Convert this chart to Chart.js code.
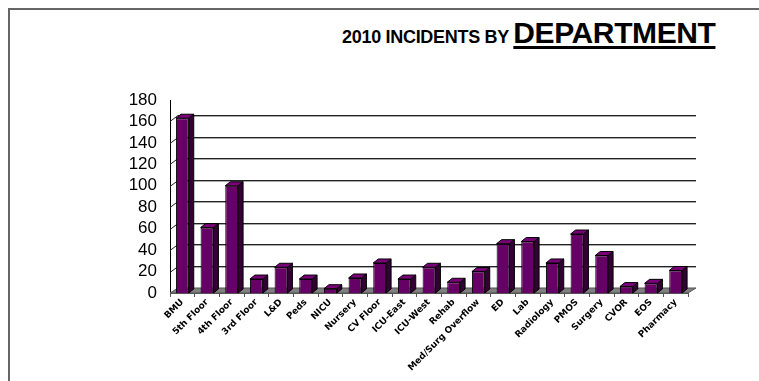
<!DOCTYPE html>
<html>
<head>
<meta charset="utf-8">
<script src="https://cdn.jsdelivr.net/npm/chart.js@4"></script>
<style>
  html, body { margin: 0; padding: 0; background: #fff; }
  #wrap { position: relative; width: 759px; height: 381px; }
  #frame { position: absolute; left: 8px; top: 8px; width: 751px; height: 373px;
           border-top: 2px solid #666; border-left: 2px solid #666; box-sizing: border-box; }
  #title { position: absolute; left: 342px; top: 18px; white-space: nowrap;
           font-family: "Liberation Sans", Arial, sans-serif; font-weight: bold; line-height: 30px; color: #000; }
  #title .small { font-size: 18px; letter-spacing: -0.3px; }
  #title .big { font-size: 30px; letter-spacing: -0.4px; text-decoration: underline;
                text-decoration-thickness: 3px; text-underline-offset: 3px; }
  canvas { position: absolute; left: 0; top: 0; }
</style>
</head>
<body>
<div id="wrap">
  <div id="frame"></div>
  <div id="title"><span class="small">2010 INCIDENTS BY </span><span class="big">DEPARTMENT</span></div>
  <canvas id="incidentsChart" width="759" height="381"></canvas>
</div>
<script>
// dados
const departments = ['BMU', '5th Floor', '4th Floor', '3rd Floor', 'L&D', 'Peds', 'NICU', 'Nursery',
    'CV Floor', 'ICU-East', 'ICU-West', 'Rehab', 'Med/Surg Overflow', 'ED', 'Lab', 'Radiology',
    'PMOS', 'Surgery', 'CVOR', 'EOS', 'Pharmacy'];
const incidents = [163, 61, 100, 13, 24, 13, 4, 14, 28, 13, 24, 10, 20, 46, 48, 28, 55, 35, 6, 9, 21];
const yTicks = [0, 20, 40, 60, 80, 100, 120, 140, 160, 180];

// efeito 3D simples: piso, linhas de grade deslocadas e faces laterais das barras
const fake3d = {
    id: 'fake3d',
    beforeDatasetsDraw(chart) {
        const ctx = chart.ctx;
        const a = chart.chartArea;
        const y = chart.scales.y;
        const dx = 8, dy = 6;
        ctx.save();
        // grade
        yTicks.forEach(function(v) {
            if (v === 0 || v === 180) return;
            const py = Math.round(y.getPixelForValue(v) - dy) + 0.5;
            ctx.strokeStyle = '#aaaaaa';
            ctx.lineWidth = 1;
            ctx.beginPath();
            ctx.moveTo(a.left + dx, py + 1);
            ctx.lineTo(a.right + dx, py + 1);
            ctx.stroke();
            ctx.strokeStyle = '#222222';
            ctx.beginPath();
            ctx.moveTo(a.left + dx, py);
            ctx.lineTo(a.right + dx, py);
            ctx.stroke();
            // tracinho diagonal no eixo
            ctx.beginPath();
            ctx.moveTo(a.left, py + dy);
            ctx.lineTo(a.left + dx, py);
            ctx.stroke();
        });
        // piso
        ctx.fillStyle = '#808080';
        ctx.beginPath();
        ctx.moveTo(a.left, a.bottom);
        ctx.lineTo(a.left + dx, a.bottom - dy + 1);
        ctx.lineTo(a.right + dx, a.bottom - dy + 1);
        ctx.lineTo(a.right, a.bottom);
        ctx.closePath();
        ctx.fill();
        ctx.strokeStyle = '#555555';
        ctx.stroke();
        ctx.restore();
    },
    afterDatasetsDraw(chart) {
        const ctx = chart.ctx;
        const meta = chart.getDatasetMeta(0);
        const dx = 5, dy = 4;
        ctx.save();
        ctx.strokeStyle = '#000';
        ctx.lineWidth = 1;
        meta.data.forEach(function(bar) {
            const p = bar.getProps(['x', 'y', 'base', 'width'], true);
            const l = p.x - p.width / 2, r = p.x + p.width / 2;
            // lateral
            ctx.fillStyle = '#330033';
            ctx.beginPath();
            ctx.moveTo(r, p.y);
            ctx.lineTo(r + dx, p.y - dy);
            ctx.lineTo(r + dx, p.base - dy);
            ctx.lineTo(r, p.base);
            ctx.closePath();
            ctx.fill();
            ctx.stroke();
            // topo
            ctx.fillStyle = '#7a007a';
            ctx.beginPath();
            ctx.moveTo(l, p.y);
            ctx.lineTo(l + dx, p.y - dy);
            ctx.lineTo(r + dx, p.y - dy);
            ctx.lineTo(r, p.y);
            ctx.closePath();
            ctx.fill();
            ctx.stroke();
        });
        ctx.restore();
    }
};

document.addEventListener('DOMContentLoaded', function() {
    const ctx = document.getElementById('incidentsChart');
    new Chart(ctx, {
        type: 'bar',
        data: {
            labels: departments,
            datasets: [{
                data: incidents,
                backgroundColor: '#660066',
                borderColor: '#000000',
                borderWidth: 1,
                barPercentage: 0.52,
                categoryPercentage: 1.0
            }]
        },
        options: {
            responsive: false,
            animation: false,
            devicePixelRatio: 1,
            layout: { padding: { top: 100, right: 71, left: 0, bottom: 0 } },
            plugins: {
                legend: { display: false },
                tooltip: { enabled: false }
            },
            scales: {
                y: {
                    min: 0,
                    max: 180,
                    afterFit: function(scale) { scale.width = 170; },
                    afterBuildTicks: function(scale) {
                        scale.ticks = yTicks.map(function(v) { return { value: v }; });
                    },
                    grid: { display: false },
                    border: { display: true, color: '#000', width: 1 },
                    ticks: {
                        autoSkip: false,
                        padding: 5,
                        color: '#000',
                        font: { family: 'Liberation Sans', size: 17 }
                    }
                },
                x: {
                    afterFit: function(scale) { scale.height = 88; },
                    grid: { drawOnChartArea: false, offset: true, tickLength: 4, color: '#555' },
                    border: { display: true, color: '#555' },
                    ticks: {
                        autoSkip: false,
                        minRotation: 45,
                        maxRotation: 45,
                        padding: 0,
                        color: '#000',
                        font: { family: 'DejaVu Sans', size: 9, weight: 'bold' }
                    }
                }
            }
        },
        plugins: [fake3d]
    });
});
</script>
</body>
</html>
